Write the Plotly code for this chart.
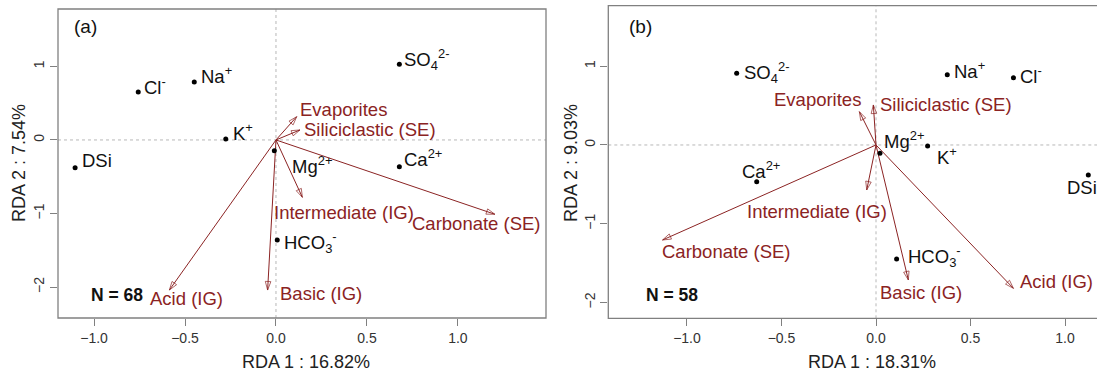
import plotly.graph_objects as go

# ---------------- data ----------------
ion_labels = ["Cl<sup>-</sup>", "Na<sup>+</sup>", "K<sup>+</sup>", "DSi",
              "SO<sub>4</sub><sup>2-</sup>", "Ca<sup>2+</sup>", "Mg<sup>2+</sup>",
              "HCO<sub>3</sub><sup>-</sup>"]
ions_a_x = [-0.757, -0.449, -0.276, -1.104, 0.678, 0.678, -0.009, 0.007]
ions_a_y = [0.653, 0.789, 0.014, -0.377, 1.03, -0.363, -0.146, -1.36]
ions_b_x = [0.727, 0.377, 0.273, 1.123, -0.737, -0.631, 0.021, 0.109]
ions_b_y = [0.854, 0.892, -0.013, -0.381, 0.91, -0.466, -0.106, -1.447]

source_labels = ["Evaporites", "Siliciclastic (SE)", "Carbonate (SE)",
                 "Intermediate (IG)", "Basic (IG)", "Acid (IG)"]
src_a_x = [0.114, 0.132, 1.203, 0.145, -0.046, -0.586]
src_a_y = [0.317, 0.136, -1.01, -0.78, -2.04, -2.04]
src_b_x = [-0.088, -0.014, -1.129, -0.049, 0.171, 0.727]
src_b_y = [0.423, 0.508, -1.206, -0.571, -1.713, -1.82]

panel_tags = ["(a)", "(b)"]
n_labels = ["N = 68", "N = 58"]
x_titles = ["RDA 1 : 16.82%", "RDA 1 : 18.31%"]
y_titles = ["RDA 2 : 7.54%", "RDA 2 : 9.03%"]
x_tickvals = [-1.0, -0.5, 0.0, 0.5, 1.0]
x_ticktext = ["\u22121.0", "\u22120.5", "0.0", "0.5", "1.0"]
y_tickvals = [-2, -1, 0, 1]
y_ticktext = ["\u22122", "\u22121", "0", "1"]

# ---------------- styling / label offsets (px) ----------------
RED = "#8b2323"
FONT = "Liberation Sans, Arial, sans-serif"
LFS = 18.5
W, H = 1097, 374
# (xanchor, xshift, yshift)
ion_off_a = [("left", 4, 6), ("left", 5, 7), ("left", 5, 7), ("left", 5, 7),
             ("left", 3, 5), ("left", 3, 9), ("left", 16, -14), ("left", 5, -2)]
ion_off_b = [("left", 5, 3), ("left", 5, 5), ("left", 7, -10), ("left", -23, -12),
             ("left", 5, 1), ("center", 4, 12), ("left", 2, 13), ("left", 9, 2)]
src_off_a = [("left", 1, 7), ("left", 2, 0), ("center", -18, -9),
             ("center", 42, -15), ("left", 10, -3), ("left", -21, -8)]
src_off_b = [("right", 4, 12), ("left", 5, 0), ("left", -3, -12),
             ("center", -50, -22), ("center", 13, -13), ("left", 5, 7)]

dom_a_x = [58 / W, 546 / W]
dom_a_y = [1 - 318 / H, 1 - 9 / H]
dom_b_x = [608.3 / W, 1.0]
dom_b_y = [1 - 318.3 / H, 1 - 5.7 / H]
range_a_x, range_a_y = [-1.198, 1.484], [-2.42, 1.78]
range_b_x, range_b_y = [-1.416, 1.169], [-2.2, 1.768]

fig = go.Figure()
annotations = []
shapes = []

panels = [
    ("x", "y", ions_a_x, ions_a_y, src_a_x, src_a_y, ion_off_a, src_off_a),
    ("x2", "y2", ions_b_x, ions_b_y, src_b_x, src_b_y, ion_off_b, src_off_b),
]

for i, (xr, yr, ix, iy, sx, sy, ioff, soff) in enumerate(panels):
    # dotted zero lines
    shapes.append(dict(type="line", xref=xr, yref=yr + " domain", x0=0, x1=0, y0=0, y1=1,
                       line=dict(color="#b8b8b8", width=1, dash="dot"), layer="below"))
    shapes.append(dict(type="line", xref=xr + " domain", yref=yr, x0=0, x1=1, y0=0, y1=0,
                       line=dict(color="#b8b8b8", width=1, dash="dot"), layer="below"))
    # box
    shapes.append(dict(type="rect", xref=xr + " domain", yref=yr + " domain",
                       x0=0, x1=1 if i == 0 else 1.1, y0=0, y1=1,
                       line=dict(color="#808080", width=1.3)))
    # source arrows: shaft from origin + open arrow marker at tip
    for px, py in zip(sx, sy):
        fig.add_trace(go.Scatter(
            x=[0, px], y=[0, py], mode="lines+markers", xaxis=xr, yaxis=yr,
            line=dict(color=RED, width=1),
            marker=dict(symbol=["circle", "arrow-open"], size=[0, 9], angleref="previous",
                        color=RED, line=dict(color=RED, width=1)),
            showlegend=False, hoverinfo="skip"))
    for lab, px, py, (anc, xs, ys) in zip(source_labels, sx, sy, soff):
        annotations.append(dict(x=px, y=py, xref=xr, yref=yr, text=lab, showarrow=False,
                                xanchor=anc, yanchor="middle", xshift=xs, yshift=ys,
                                font=dict(family=FONT, size=LFS, color=RED)))
    # ion points
    fig.add_trace(go.Scatter(x=ix, y=iy, mode="markers", xaxis=xr, yaxis=yr,
                             marker=dict(color="black", size=5), showlegend=False,
                             hoverinfo="skip"))
    for lab, px, py, (anc, xs, ys) in zip(ion_labels, ix, iy, ioff):
        annotations.append(dict(x=px, y=py, xref=xr, yref=yr, text=lab, showarrow=False,
                                xanchor=anc, yanchor="middle", xshift=xs, yshift=ys,
                                font=dict(family=FONT, size=LFS, color="#111111")))

# panel tags, N labels, axis titles
annotations += [
    dict(x=72 / W, y=1 - 27 / H, xref="paper", yref="paper", text=panel_tags[0],
         showarrow=False, xanchor="left", yanchor="middle",
         font=dict(family=FONT, size=19, color="#111111")),
    dict(x=627 / W, y=1 - 27 / H, xref="paper", yref="paper", text=panel_tags[1],
         showarrow=False, xanchor="left", yanchor="middle",
         font=dict(family=FONT, size=19, color="#111111")),
    dict(x=89 / W, y=1 - 295 / H, xref="paper", yref="paper", text="<b>" + n_labels[0] + "</b>",
         showarrow=False, xanchor="left", yanchor="middle",
         font=dict(family=FONT, size=17.5, color="#111111")),
    dict(x=644 / W, y=1 - 295 / H, xref="paper", yref="paper", text="<b>" + n_labels[1] + "</b>",
         showarrow=False, xanchor="left", yanchor="middle",
         font=dict(family=FONT, size=17.5, color="#111111")),
    dict(x=306 / W, y=1 - 362 / H, xref="paper", yref="paper", text=x_titles[0],
         showarrow=False, xanchor="center", yanchor="middle",
         font=dict(family=FONT, size=18, color="#222222")),
    dict(x=872 / W, y=1 - 362 / H, xref="paper", yref="paper", text=x_titles[1],
         showarrow=False, xanchor="center", yanchor="middle",
         font=dict(family=FONT, size=18, color="#222222")),
    dict(x=19 / W, y=1 - 163 / H, xref="paper", yref="paper", text=y_titles[0],
         showarrow=False, xanchor="center", yanchor="middle", textangle=-90,
         font=dict(family=FONT, size=18, color="#222222")),
    dict(x=571 / W, y=1 - 163 / H, xref="paper", yref="paper", text=y_titles[1],
         showarrow=False, xanchor="center", yanchor="middle", textangle=-90,
         font=dict(family=FONT, size=18, color="#222222")),
]

xaxis_common = dict(tickmode="array", tickvals=x_tickvals, ticktext=x_ticktext,
                    ticks="outside", ticklen=7, tickcolor="#808080", tickwidth=1,
                    showgrid=False, zeroline=False, showline=False,
                    tickfont=dict(family=FONT, size=14, color="#333333"))
yaxis_common = dict(tickmode="array", tickvals=y_tickvals, ticktext=y_ticktext,
                    ticks="outside", ticklen=7, tickcolor="#808080", tickwidth=1,
                    showgrid=False, zeroline=False, showline=False, tickangle=-90,
                    tickfont=dict(family=FONT, size=14, color="#333333"))

fig.update_layout(
    width=W, height=H,
    margin=dict(l=0, r=0, t=0, b=0),
    paper_bgcolor="white", plot_bgcolor="white",
    showlegend=False,
    xaxis=dict(domain=dom_a_x, range=range_a_x, anchor="y", **xaxis_common),
    yaxis=dict(domain=dom_a_y, range=range_a_y, anchor="x", **yaxis_common),
    xaxis2=dict(domain=dom_b_x, range=range_b_x, anchor="y2", **xaxis_common),
    yaxis2=dict(domain=dom_b_y, range=range_b_y, anchor="x2", **yaxis_common),
    annotations=annotations,
    shapes=shapes,
)

fig.write_html("out.html", config={"displayModeBar": False},
               post_script="document.body.style.margin='0';document.body.style.overflow='hidden';")
